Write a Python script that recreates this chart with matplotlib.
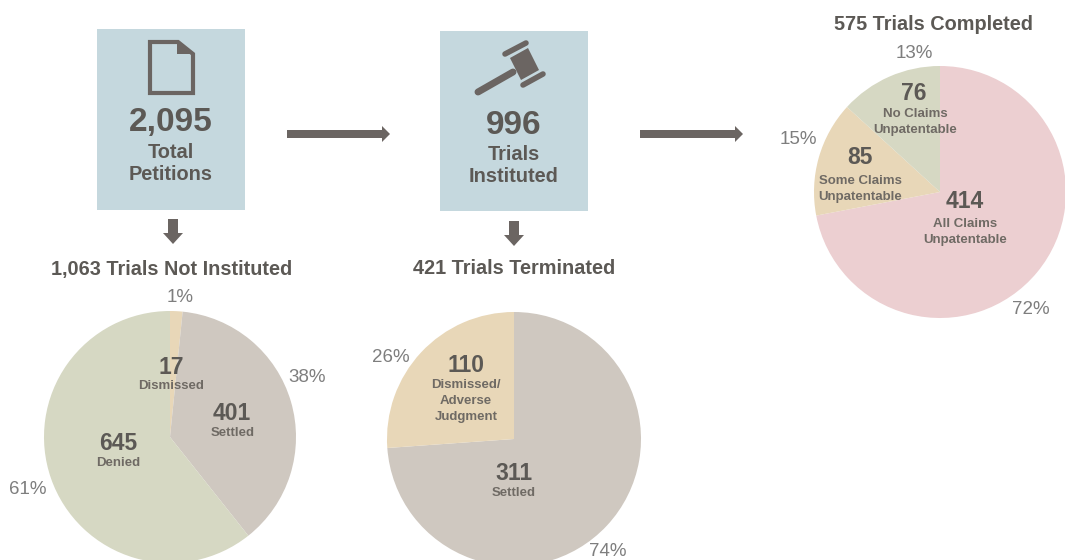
# -*- coding: utf-8 -*-
import matplotlib
matplotlib.use('Agg')
import matplotlib.pyplot as plt
from matplotlib.patches import Rectangle, Polygon, FancyArrow

plt.rcParams['font.family'] = ['Liberation Sans', 'DejaVu Sans']

# data ---------------------------------------------------------------
not_instituted_values = [17, 401, 645]
not_instituted_labels = ['Dismissed', 'Settled', 'Denied']
not_instituted_pct = ['1%', '38%', '61%']

terminated_values = [311, 110]
terminated_labels = ['Settled', 'Dismissed/\nAdverse\nJudgment']
terminated_pct = ['74%', '26%']

completed_values = [414, 85, 76]
completed_labels = ['All Claims\nUnpatentable', 'Some Claims\nUnpatentable', 'No Claims\nUnpatentable']
completed_pct = ['72%', '15%', '13%']

titles = ['1,063 Trials Not Instituted', '421 Trials Terminated', '575 Trials Completed']

# colours ------------------------------------------------------------
BOX = '#C5D8DE'
PINK = '#ECCFD1'
TAN = '#E8D7B8'
SAGE = '#D6D8C3'
TAUPE = '#CFC8C0'
DARK = '#6B6562'
TEXT = '#5C5955'
PCT = '#7E7E7E'

fig = plt.figure(figsize=(10.65, 5.6), dpi=100)
ax = fig.add_axes([0, 0, 1, 1])


def draw_pie(values, colors, center, radius, num_pos, lab_pos, pct_pos, labels, pct):
    # y axis runs downwards, so counterclock=True reads clockwise from the top
    ax.pie(values, colors=colors, center=center, radius=radius, startangle=-90,
           counterclock=True, frame=True, wedgeprops=dict(linewidth=0))
    for v, p in zip(values, num_pos):
        ax.text(p[0], p[1], str(v), fontsize=16.5, fontweight='bold', color=TEXT,
                ha='center', va='center')
    for s, p in zip(labels, lab_pos):
        ax.text(p[0], p[1], s, fontsize=9.5, fontweight='bold', color='#6F6A64',
                ha='center', va='center', linespacing=1.4)
    for s, p in zip(pct, pct_pos):
        ax.text(p[0], p[1], s, fontsize=13.5, color=PCT, ha='center', va='center')


draw_pie(not_instituted_values, [TAN, TAUPE, SAGE], (170, 437), 126,
         [(171, 367), (232, 414), (118, 444)],
         [(171, 386), (233, 433), (118, 463)],
         [(180, 298), (307, 377), (28, 490)],
         not_instituted_labels, not_instituted_pct)
draw_pie(terminated_values, [TAUPE, TAN], (514, 439), 127,
         [(514, 474), (466, 365)],
         [(514, 493), (466, 401)],
         [(608, 551), (391, 357)],
         terminated_labels, terminated_pct)
draw_pie(completed_values, [PINK, TAN, SAGE], (940, 192), 126,
         [(965, 202), (860, 157), (914, 94)],
         [(965, 232), (860, 189), (915, 122)],
         [(1031, 309), (798, 140), (914, 54)],
         completed_labels, completed_pct)

# boxes
ax.add_patch(Rectangle((97, 29), 148, 181, facecolor=BOX, edgecolor='none', zorder=1))
ax.add_patch(Rectangle((440, 31), 148, 180, facecolor=BOX, edgecolor='none', zorder=1))

# box texts
ax.text(171, 123, '2,095', fontsize=24, fontweight='bold', color=TEXT, ha='center', va='center')
ax.text(171, 153, 'Total', fontsize=14.4, fontweight='bold', color=TEXT, ha='center', va='center')
ax.text(171, 175, 'Petitions', fontsize=14.4, fontweight='bold', color=TEXT, ha='center', va='center')
ax.text(514, 125, '996', fontsize=24, fontweight='bold', color=TEXT, ha='center', va='center')
ax.text(514, 155, 'Trials', fontsize=14.4, fontweight='bold', color=TEXT, ha='center', va='center')
ax.text(514, 177, 'Instituted', fontsize=14.4, fontweight='bold', color=TEXT, ha='center', va='center')

# section titles
for s, x, y in zip(titles, [172, 514, 933], [269, 269, 24]):
    ax.text(x, y, s, fontsize=14.3, fontweight='bold', color=TEXT, ha='center', va='center')

# document icon
ax.add_patch(Polygon([(150, 42), (178, 42), (193, 54), (193, 93), (150, 93)],
                     closed=True, facecolor='none', edgecolor=DARK, linewidth=3, zorder=3))
ax.add_patch(Polygon([(177, 41), (195, 54), (177, 54)], closed=True, facecolor=DARK,
                     edgecolor='none', zorder=3))

# gavel icon
ax.plot([478, 513], [92, 72], color=DARK, linewidth=5, solid_capstyle='round', zorder=3)
ax.plot([505, 526], [54, 43], color=DARK, linewidth=4, solid_capstyle='round', zorder=3)
ax.plot([523, 543], [85, 74], color=DARK, linewidth=4, solid_capstyle='round', zorder=3)
ax.add_patch(Polygon([(510, 58), (528, 48), (539, 70), (521, 80)], closed=True, facecolor=DARK,
                     edgecolor='none', zorder=3))

# arrows
for x0, y0, dx, dy, w, hw, hl in [(287, 134, 103, 0, 8, 16, 8), (640, 134, 103, 0, 8, 16, 8),
                                  (173, 219, 0, 25, 10, 20, 11), (514, 221, 0, 25, 10, 20, 11)]:
    ax.add_patch(FancyArrow(x0, y0, dx, dy, width=w, head_width=hw, head_length=hl,
                            length_includes_head=True, facecolor=DARK, edgecolor='none', zorder=3))

ax.set_xlim(0, 1065)
ax.set_ylim(560, 0)
ax.axis('off')

fig.savefig('out.png', dpi=100, facecolor='white')
